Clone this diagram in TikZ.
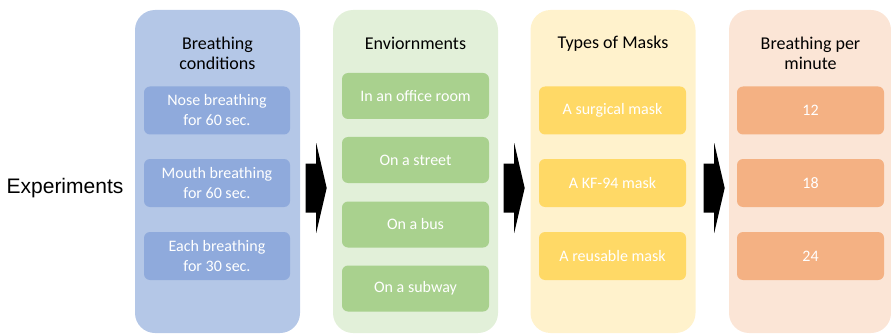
\documentclass[tikz,border=0pt]{standalone}
\usepackage{fontspec}
\usetikzlibrary{calc}
\setmainfont{Carlito}
\newfontfamily\labelfont{Liberation Sans}
\definecolor{blueBg}{HTML}{B4C7E7}
\definecolor{blueIt}{HTML}{8FAADC}
\definecolor{greenBg}{HTML}{E2F0D9}
\definecolor{greenIt}{HTML}{A9D18E}
\definecolor{yellowBg}{HTML}{FFF2CC}
\definecolor{yellowIt}{HTML}{FFD966}
\definecolor{orangeBg}{HTML}{FBE5D6}
\definecolor{orangeIt}{HTML}{F4B183}
\begin{document}
\begin{tikzpicture}[x=1pt,y=-1pt,
  column/.style={rectangle,rounded corners=20pt,minimum width=165pt,minimum height=323pt,inner sep=0pt},
  heading/.style={align=center,font=\fontsize{18}{20}\selectfont,text=black,inner sep=0pt},
  item/.style={rectangle,rounded corners=6pt,minimum width=146pt,minimum height=48pt,inner sep=0pt,
    align=center,text=white,font=\fontsize{16}{20}\selectfont},
  gitem/.style={item,minimum height=46pt},
  pics/blockarrow/.style={code={
    \fill[black] (0,-24.5) -- (10.5,-24.5) -- (10.5,-45) -- (21,0) -- (10.5,45) -- (10.5,24.5) -- (0,24.5) -- cycle;
  }}]
\useasboundingbox (0,0) rectangle (891,334);

% side label
\node[font=\labelfont\fontsize{21}{24}\selectfont,inner sep=0pt] (exp) at (65,188) {Experiments};

% column backgrounds
\node[column,fill=blueBg] (colA) at (217.5,171.5) {};
\node[column,fill=greenBg] (colB) at (415.5,171.5) {};
\node[column,fill=yellowBg] (colC) at (613,171.5) {};
\node[column,fill=orangeBg,minimum width=162pt] (colD) at (810,171.5) {};

% column headings
\node[heading] (hA) at (217.5,53.5) {Breathing\\conditions};
\node[heading] (hB) at (415.5,43.5) {Enviornments};
\node[heading] (hC) at (613,43.5) {Types of Masks};
\node[heading] (hD) at (810.5,53.5) {Breathing per\\minute};

% breathing conditions
\node[item,fill=blueIt] (a1) at (217,110.5) {Nose breathing\\for 60 sec.};
\node[item,fill=blueIt] (a2) at (217,183) {Mouth breathing\\for 60 sec.};
\node[item,fill=blueIt] (a3) at (217,256) {Each breathing\\for 30 sec.};

% environments
\node[gitem,fill=greenIt,minimum width=147pt] (b1) at (415.5,96) {In an office room};
\node[gitem,fill=greenIt,minimum width=147pt] (b2) at (415.5,160) {On a street};
\node[gitem,fill=greenIt,minimum width=147pt] (b3) at (415.5,224.5) {On a bus};
\node[gitem,fill=greenIt,minimum width=147pt] (b4) at (415.5,288.5) {On a subway};

% mask types
\node[item,fill=yellowIt,minimum width=147pt] (c1) at (612.5,110.5) {A surgical mask};
\node[item,fill=yellowIt,minimum width=147pt] (c2) at (612.5,183) {A KF-94 mask};
\node[item,fill=yellowIt,minimum width=147pt] (c3) at (612.5,256) {A reusable mask};

% breathing rates
\node[item,fill=orangeIt,minimum width=147pt] (d1) at (810.5,110.5) {12};
\node[item,fill=orangeIt,minimum width=147pt] (d2) at (810.5,183) {18};
\node[item,fill=orangeIt,minimum width=147pt] (d3) at (810.5,256) {24};

% block arrows between the columns
\pic at ($(colA.east |- 0,188)+(5.5,0)$) {blockarrow};
\pic at ($(colB.east |- 0,188)+(5.5,0)$) {blockarrow};
\pic at ($(colC.east |- 0,188)+(8,0)$) {blockarrow};
\end{tikzpicture}
\end{document}
